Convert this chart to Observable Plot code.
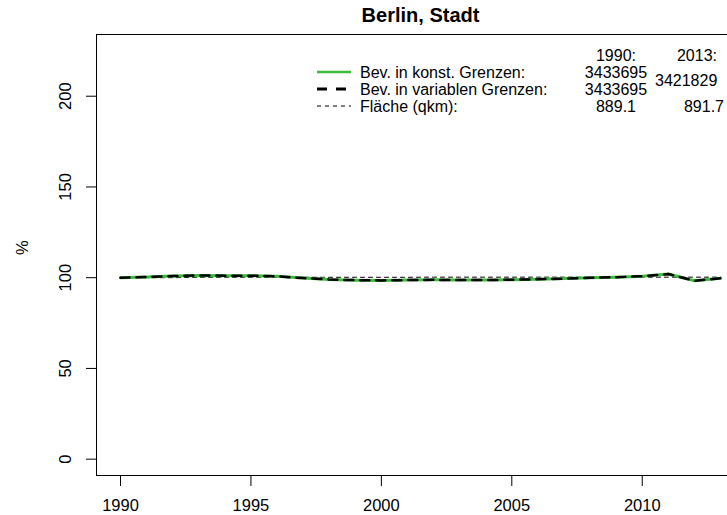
<!DOCTYPE html>
<html><head><meta charset="utf-8">
<script src="https://cdn.jsdelivr.net/npm/d3@7"></script>
<script src="https://cdn.jsdelivr.net/npm/@observablehq/plot@0.6"></script>
<style>
html,body{margin:0;padding:0;background:#fff;overflow:hidden;}
#chart{position:relative;width:727px;height:515px;overflow:hidden;}
</style></head><body><div id="chart"></div>
<script>
const title = "Berlin, Stadt";
const yLabel = "%";
const years = [1990,1991,1992,1993,1994,1995,1996,1997,1998,1999,2000,2001,2002,2003,2004,2005,2006,2007,2008,2009,2010,2011,2012,2013];
const bevKonst = [100.00,100.36,100.93,101.21,101.12,101.10,100.73,99.77,98.98,98.63,98.50,98.68,98.80,98.68,98.66,98.88,99.14,99.49,99.94,100.26,100.79,101.99,98.30,99.65];
const bevVariabel = [100.00,100.36,100.93,101.21,101.12,101.10,100.73,99.77,98.98,98.63,98.50,98.68,98.80,98.68,98.66,98.88,99.14,99.49,99.94,100.26,100.79,101.99,98.30,99.65];
const flaechePct = [100.00,100.00,100.00,100.22,100.22,100.22,100.22,100.22,100.22,100.22,100.22,100.22,100.29,100.29,100.29,100.29,100.29,100.29,100.29,100.29,100.29,100.29,100.29,100.29];
const xTicks = [1990,1995,2000,2005,2010];
const yTicks = [0,50,100,150,200];
const legendLabels = ["Bev. in konst. Grenzen:","Bev. in variablen Grenzen:","Fläche (qkm):"];
const legendHead = ["1990:","2013:"];
const legend1990 = ["3433695","3433695","889.1"];
const legend2013Bev = "3421829";
const legend2013Flaeche = "891.7";

const green = "#3dbb3d";
const font = "'Liberation Sans', Arial, Helvetica, sans-serif";
const rows = years.map((year,i)=>({year, konst: bevKonst[i], variabel: bevVariabel[i], flaeche: flaechePct[i]}));

const plot = Plot.plot({
  width: 727, height: 515,
  marginLeft: 96, marginRight: -17, marginTop: 34, marginBottom: 40,
  style: {fontFamily: font, fontSize: "16.5px", background: "#fff", overflow: "hidden", color: "black"},
  x: {domain: [1989.08, 2013.92], range: [96, 744]},
  y: {domain: [-9, 234]},
  marks: [
    Plot.frame({stroke: "black", strokeWidth: 1}),
    Plot.axisX({ticks: xTicks, tickSize: 11, tickPadding: 13, tickFormat: d => String(d), fontSize: 16.5, label: null}),
    Plot.axisY({ticks: yTicks, tickSize: 10, tickFormat: () => "", label: null}),
    Plot.text(yTicks, {y: d => d, text: d => String(d), frameAnchor: "left", dx: -31, rotate: -90, textAnchor: "middle", lineAnchor: "middle", fontSize: 16.5}),
    Plot.text([yLabel], {text: d => d, frameAnchor: "left", dx: -74, rotate: -90, lineAnchor: "middle", fontSize: 16.5}),
    Plot.text([title], {text: d => d, frameAnchor: "top", dy: -19, lineAnchor: "middle", fontWeight: "bold", fontSize: 20}),
    Plot.line(rows, {x: "year", y: "flaeche", stroke: "black", strokeWidth: 1, strokeDasharray: "4,4"}),
    Plot.line(rows, {x: "year", y: "konst", stroke: green, strokeWidth: 3}),
    Plot.line(rows, {x: "year", y: "variabel", stroke: "black", strokeWidth: 2.5, strokeDasharray: "9,7"})
  ]
});

// legend
const svg = d3.select(plot);
const lg = svg.append("g").attr("font-family", font).attr("font-size", 16).attr("fill", "black").attr("text-anchor", "start");
const rowY = [72, 89, 106];
const swatch = [
  {stroke: green, w: 2.5, dash: null},
  {stroke: "black", w: 3, dash: "10,9"},
  {stroke: "black", w: 1, dash: "4,4"}
];
swatch.forEach((s,i) => {
  const l = lg.append("line").attr("x1", 317).attr("x2", 351).attr("y1", rowY[i]).attr("y2", rowY[i])
    .attr("stroke", s.stroke).attr("stroke-width", s.w);
  if (s.dash) l.attr("stroke-dasharray", s.dash);
});
legendLabels.forEach((t,i) => {
  lg.append("text").attr("x", 360).attr("y", rowY[i]).attr("dy", "0.35em").attr("text-anchor", "start").text(t);
});
lg.append("text").attr("x", 616).attr("y", 55).attr("dy", "0.35em").attr("text-anchor", "middle").text(legendHead[0]);
lg.append("text").attr("x", 697).attr("y", 55).attr("dy", "0.35em").attr("text-anchor", "middle").text(legendHead[1]);
legend1990.forEach((t,i) => {
  lg.append("text").attr("x", 616).attr("y", rowY[i]).attr("dy", "0.35em").attr("text-anchor", "middle").text(t);
});
lg.append("text").attr("x", 655).attr("y", 80.5).attr("dy", "0.35em").attr("text-anchor", "start").text(legend2013Bev);
lg.append("text").attr("x", 704).attr("y", rowY[2]).attr("dy", "0.35em").attr("text-anchor", "middle").text(legend2013Flaeche);

document.getElementById("chart").appendChild(plot);
</script></body></html>
